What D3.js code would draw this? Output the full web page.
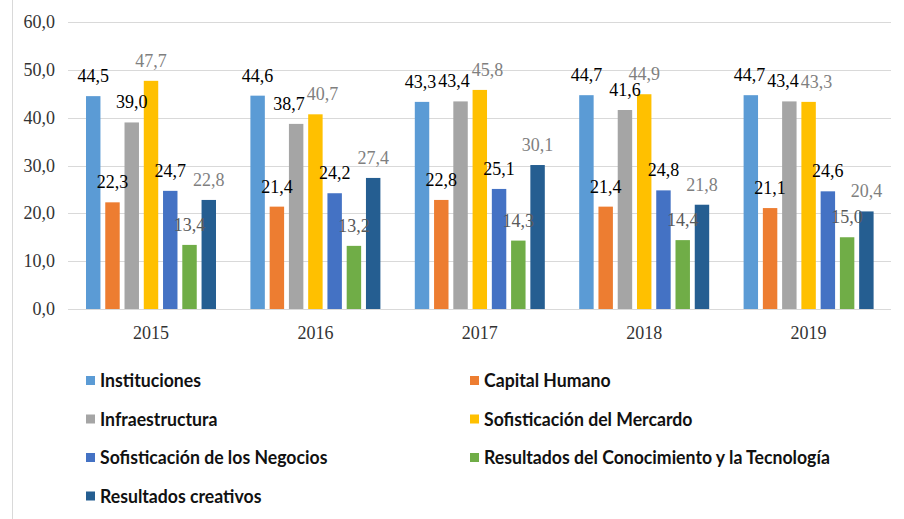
<!DOCTYPE html>
<html>
<head>
<meta charset="utf-8">
<script src="https://cdn.jsdelivr.net/npm/d3@7"></script>
<style>
  html, body { margin: 0; padding: 0; background: #fff; }
  svg { display: block; }
</style>
</head>
<body>
<div id="chart"></div>
<script>
// Chart data: index values per pillar, 2015-2019.
const years = ['2015', '2016', '2017', '2018', '2019'];
const seriesNames = [
  'Instituciones',
  'Capital Humano',
  'Infraestructura',
  'Sofisticación del Mercardo',
  'Sofisticación de los Negocios',
  'Resultados del Conocimiento y la Tecnología',
  'Resultados creativos'
];
const instituciones = [44.5, 44.6, 43.3, 44.7, 44.7];
const capitalHumano = [22.3, 21.4, 22.8, 21.4, 21.1];
const infraestructura = [39.0, 38.7, 43.4, 41.6, 43.4];
const sofMercado = [47.7, 40.7, 45.8, 44.9, 43.3];
const sofNegocios = [24.7, 24.2, 25.1, 24.8, 24.6];
const resConocimiento = [13.4, 13.2, 14.3, 14.4, 15.0];
const resCreativos = [22.8, 27.4, 30.1, 21.8, 20.4];
const yTicks = [0, 10, 20, 30, 40, 50, 60];

const seriesValues = [instituciones, capitalHumano, infraestructura, sofMercado, sofNegocios, resConocimiento, resCreativos];
const colors = ['#5B9BD5', '#ED7D31', '#A5A5A5', '#FFC000', '#4472C4', '#70AD47', '#255E91'];
// Some series in the source draw their data labels in gray instead of black.
const labelColors = ['#000', '#000', '#000', '#7f7f7f', '#000', '#595959', '#7f7f7f'];

const width = 904, height = 519;
const locale = d3.formatLocale({decimal: ',', thousands: '.', grouping: [3], currency: ['', '']});
const fmt = locale.format('.1f');

const svg = d3.select('#chart').append('svg')
  .attr('width', width)
  .attr('height', height);

// Thin frame line on the left edge.
svg.append('line')
  .attr('x1', 12.5).attr('x2', 12.5)
  .attr('y1', 0).attr('y2', height)
  .attr('stroke', '#d9d9d9');

const x0 = d3.scaleBand().domain(years).range([69, 891]).padding(0);
const x1 = d3.scaleBand().domain(seriesNames).range([17, 147]).paddingInner(0.25);
const y = d3.scaleLinear().domain([0, 60]).range([309, 22]);

// Gridlines
svg.append('g').selectAll('line')
  .data(yTicks)
  .join('line')
  .attr('x1', 68).attr('x2', 891)
  .attr('y1', d => Math.round(y(d)) + 0.5)
  .attr('y2', d => Math.round(y(d)) + 0.5)
  .attr('stroke', '#d9d9d9')
  .attr('stroke-width', 1.2);

// Y tick labels
svg.append('g').selectAll('text')
  .data(yTicks)
  .join('text')
  .attr('x', 55)
  .attr('y', d => y(d) + 6)
  .attr('text-anchor', 'end')
  .attr('font-family', '"Liberation Serif", "Times New Roman", serif')
  .attr('font-size', 18)
  .attr('fill', '#333')
  .text(d => fmt(d));

// X category labels
svg.append('g').selectAll('text')
  .data(years)
  .join('text')
  .attr('x', d => x0(d) + 82)
  .attr('y', 339)
  .attr('text-anchor', 'middle')
  .attr('font-family', '"Liberation Serif", "Times New Roman", serif')
  .attr('font-size', 18)
  .attr('fill', '#333')
  .text(d => d);

// Bars grouped by year
const rows = [];
years.forEach((yr, i) => {
  seriesNames.forEach((s, j) => {
    rows.push({year: yr, series: s, idx: j, value: seriesValues[j][i]});
  });
});

const groups = svg.append('g');
groups.selectAll('rect')
  .data(rows)
  .join('rect')
  .attr('x', d => x0(d.year) + x1(d.series))
  .attr('y', d => y(d.value))
  .attr('width', x1.bandwidth())
  .attr('height', d => y(0) - y(d.value))
  .attr('fill', d => colors[d.idx]);

// Data labels above each bar
const labels = groups.selectAll('text')
  .data(rows)
  .join('text')
  .attr('text-anchor', 'middle')
  .attr('font-family', '"Liberation Serif", "Times New Roman", serif')
  .attr('font-size', 18)
  .attr('fill', d => labelColors[d.idx])
  .text(d => fmt(d.value));

// Nudge labels sideways when neighbours at a similar height collide,
// the way the source chart had its labels dragged apart.
labels.each(function(d){
  d.cx = x0(d.year) + x1(d.series) + x1.bandwidth() / 2;
  d.ly = y(d.value) - 14;
  d.w = this.getComputedTextLength();
});
years.forEach(yr => {
  const items = rows.filter(r => r.year === yr).sort((a, b) => a.cx - b.cx);
  for(let iter = 0; iter < 30; iter++){
    let moved = false;
    for(let i = 0; i < items.length; i++){
      for(let j = i + 1; j < items.length; j++){
        const a = items[i], b = items[j];
        if(Math.abs(a.ly - b.ly) >= 14) continue;
        const overlap = (a.cx + a.w / 2 + 2) - (b.cx - b.w / 2);
        if(overlap > 0){
          a.cx -= overlap / 2;
          b.cx += overlap / 2;
          moved = true;
        }
      }
    }
    if(!moved) break;
  }
});
labels
  .attr('x', d => d.cx)
  .attr('y', d => d.ly);

// Legend: two columns, four rows
const legend = svg.append('g');
const legendItems = legend.selectAll('g')
  .data(seriesNames)
  .join('g')
  .attr('transform', (d, i) => `translate(${i % 2 === 0 ? 86 : 470},${380 + Math.floor(i / 2) * 38.5})`);

legendItems.append('rect')
  .attr('x', 0).attr('y', -4)
  .attr('width', 9).attr('height', 9)
  .attr('fill', (d, i) => colors[i]);

legendItems.append('text')
  .attr('transform', 'translate(14,7) scale(0.93,1)')
  .attr('font-family', 'Lato, "Open Sans", sans-serif')
  .attr('font-weight', 700)
  .attr('font-size', 19)
  .attr('fill', '#111')
  .text(d => d);
</script>
</body>
</html>
